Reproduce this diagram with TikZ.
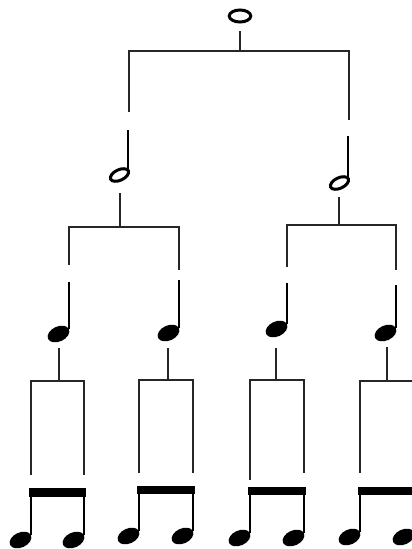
\documentclass[tikz,border=0pt]{standalone}
\usetikzlibrary{shapes.geometric}
\begin{document}
\begin{tikzpicture}[x=1pt,y=-1pt,
  tree/.style={line width=1.6pt, black!85},
  stem/.style={line width=1.7pt},
  qhead/.style={ellipse, fill=black, inner sep=0pt, outer sep=0pt, minimum width=23pt, minimum height=15pt, rotate=25},
  hhead/.style={ellipse, draw=black, line width=3pt, inner sep=0pt, outer sep=0pt, minimum width=19.5pt, minimum height=10.5pt, rotate=25},
  whead/.style={ellipse, draw=black, line width=3pt, inner sep=0pt, outer sep=0pt, minimum width=21.5pt, minimum height=12pt},
  beamfill/.style={fill=black}]
\clip (0,0) rectangle (412,549);
% ---------- level 0: whole note
\node[whead] (w) at (240,16) {};
\coordinate (w-t) at (240,31);
\coordinate (w-j) at (240,51);
\coordinate (w-l) at (129,51);
\coordinate (w-r) at (349,51);
\coordinate (w-le) at (129,112);
\coordinate (w-re) at (349,120);
\draw[tree] (w-t) -- (w-j);
\draw[tree] (w-le) -- (w-l) -- (w-r) -- (w-re);
% ---------- level 1: half notes
\node[hhead] (h1) at (119.5,175) {};
\node[hhead] (h2) at (339.5,183) {};
\draw[stem] (h1.east) -- (h1.east |- 0,130);
\draw[stem] (h2.east) -- (h2.east |- 0,136);
% tree below half notes
\coordinate (h1-t) at (120,193);
\coordinate (h1-j) at (120,227);
\coordinate (h1-l) at (69,227);
\coordinate (h1-r) at (179,227);
\coordinate (h1-le) at (69,265);
\coordinate (h1-re) at (179,270);
\draw[tree] (h1-t) -- (h1-j);
\draw[tree] (h1-le) -- (h1-l) -- (h1-r) -- (h1-re);
\coordinate (h2-t) at (339,197);
\coordinate (h2-j) at (339,225);
\coordinate (h2-l) at (287,225);
\coordinate (h2-r) at (396,225);
\coordinate (h2-le) at (287,267);
\coordinate (h2-re) at (396,270);
\draw[tree] (h2-t) -- (h2-j);
\draw[tree] (h2-le) -- (h2-l) -- (h2-r) -- (h2-re);
% ---------- level 2: quarter notes
\node[qhead] (q1) at (58.5,334) {};
\node[qhead] (q2) at (168.5,333) {};
\node[qhead] (q3) at (276.5,329) {};
\node[qhead] (q4) at (385.5,333) {};
\draw[stem] (q1.east) -- (q1.east |- 0,282);
\draw[stem] (q2.east) -- (q2.east |- 0,280);
\draw[stem] (q3.east) -- (q3.east |- 0,283);
\draw[stem] (q4.east) -- (q4.east |- 0,285);
% tree below quarter notes
\coordinate (q1-t) at (59,348);
\coordinate (q1-j) at (59,381);
\coordinate (q1-l) at (31,381);
\coordinate (q1-r) at (84,381);
\coordinate (q1-le) at (31,475);
\coordinate (q1-re) at (84,475);
\draw[tree] (q1-t) -- (q1-j);
\draw[tree] (q1-le) -- (q1-l) -- (q1-r) -- (q1-re);
\coordinate (q2-t) at (168,348);
\coordinate (q2-j) at (168,380);
\coordinate (q2-l) at (139,380);
\coordinate (q2-r) at (193,380);
\coordinate (q2-le) at (139,473);
\coordinate (q2-re) at (193,473);
\draw[tree] (q2-t) -- (q2-j);
\draw[tree] (q2-le) -- (q2-l) -- (q2-r) -- (q2-re);
\coordinate (q3-t) at (276,348);
\coordinate (q3-j) at (276,380);
\coordinate (q3-l) at (250,380);
\coordinate (q3-r) at (304,380);
\coordinate (q3-le) at (250,480);
\coordinate (q3-re) at (304,473);
\draw[tree] (q3-t) -- (q3-j);
\draw[tree] (q3-le) -- (q3-l) -- (q3-r) -- (q3-re);
\coordinate (q4-t) at (387,347);
\coordinate (q4-j) at (387,381);
\coordinate (q4-l) at (360,381);
\coordinate (q4-r) at (415,381);
\coordinate (q4-le) at (360,473);
\coordinate (q4-re) at (415,473);
\draw[tree] (q4-t) -- (q4-j);
\draw[tree] (q4-le) -- (q4-l) -- (q4-r) -- (q4-re);
% ---------- level 3: beamed eighth pairs
\node[qhead] (e1a) at (20.5,540) {};
\node[qhead] (e1b) at (73.5,540) {};
\node[qhead] (e2a) at (128.5,536) {};
\node[qhead] (e2b) at (182.5,536) {};
\node[qhead] (e3a) at (239.5,538) {};
\node[qhead] (e3b) at (293.5,538) {};
\node[qhead] (e4a) at (349.5,537) {};
\node[qhead] (e4b) at (403.5,537) {};
\draw[stem] (e1a.east) -- (e1a.east |- 0,492);
\draw[stem] (e1b.east) -- (e1b.east |- 0,492);
\draw[stem] (e2a.east) -- (e2a.east |- 0,490);
\draw[stem] (e2b.east) -- (e2b.east |- 0,490);
\draw[stem] (e3a.east) -- (e3a.east |- 0,491);
\draw[stem] (e3b.east) -- (e3b.east |- 0,491);
\draw[stem] (e4a.east) -- (e4a.east |- 0,490);
\draw[stem] (e4b.east) -- (e4b.east |- 0,490);
\fill[beamfill] (29,488) rectangle (85.5,497);
\fill[beamfill] (137,486) rectangle (194.5,494);
\fill[beamfill] (248,487) rectangle (305.5,495);
\fill[beamfill] (358,487) rectangle (416,495);
\end{tikzpicture}
\end{document}
